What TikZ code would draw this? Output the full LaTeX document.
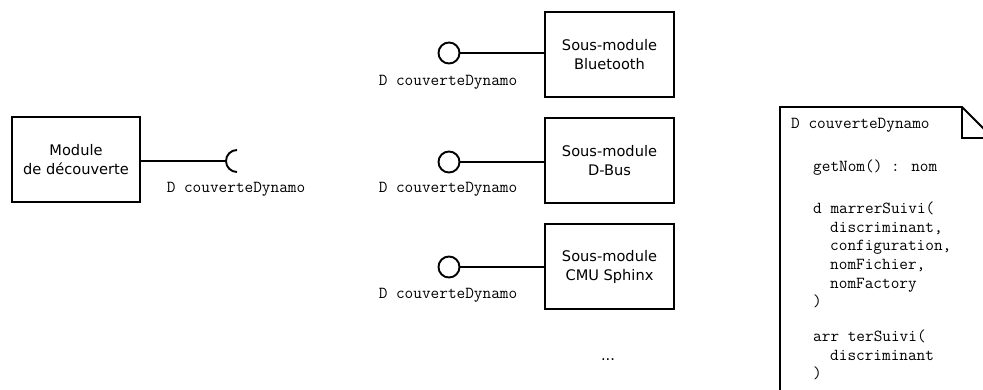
\documentclass[tikz,border=0pt]{standalone}
\usepackage{fontspec}
\newfontfamily\dsans{DejaVu Sans}
\begin{document}
\begin{tikzpicture}[x=1pt,y=-1pt,
  box/.style={draw,line width=1.9pt,minimum width=129pt,minimum height=85pt,inner sep=0pt,align=center,font=\dsans\fontsize{14.6}{19}\selectfont},
  iface/.style={draw,circle,line width=1.9pt,minimum size=21pt,inner sep=0pt},
  lbl/.style={inner sep=0pt,font=\ttfamily\fontsize{16.8}{18.5}\selectfont},
  conn/.style={line width=1.9pt},
  ntext/.style={lbl,anchor=west,text height=10pt,text depth=3pt}]
\clip (0,0) rectangle (983,389);
\fill[white] (0,0) rectangle (983,389);

% module de decouverte
\node[box,minimum width=128pt] (mod) at (76,159.5) {Module\\de découverte};
\coordinate (sock) at (237,161);
\draw[conn] (mod.east |- sock) -- ([xshift=-11pt]sock);
\draw[conn] ([yshift=11pt]sock) arc[start angle=90,end angle=270,radius=11pt];
\node[lbl] (lmod) at (236,189) {D couverteDynamo};

% sous-modules
\node[box] (bt) at (609.5,54.5) {Sous-module\\Bluetooth};
\node[box] (db) at (609.5,160.5) {Sous-module\\D-Bus};
\node[box] (cmu) at (609.5,266.5) {Sous-module\\CMU Sphinx};

\node[iface] (ibt) at (449,53) {};
\node[iface] (idb) at (449,162) {};
\node[iface] (icmu) at (449,267) {};

\draw[conn] (ibt.east) -- (ibt.east -| bt.west);
\draw[conn] (idb.east) -- (idb.east -| db.west);
\draw[conn] (icmu.east) -- (icmu.east -| cmu.west);

\node[lbl] (lbt) at (448,82) {D couverteDynamo};
\node[lbl] (ldb) at (448,189) {D couverteDynamo};
\node[lbl] (lcmu) at (448,295) {D couverteDynamo};

\node[inner sep=0pt,font=\dsans\fontsize{14.6}{19}\selectfont] (dots) at (608,360) {...};

% note
\draw[conn,line join=miter] (780,420) -- (780,107) -- (962,107) -- (993,138) -- (993,420);
\draw[conn] (962,107) -- (962,138) -- (993,138);
\node[ntext] (n1) at (791,125) {D couverteDynamo};
\node[ntext] (n2) at (813,168) {getNom() : nom};
\node[ntext] (n3) at (813,210) {d marrerSuivi(};
\node[ntext] (n4) at (830,228.5) {discriminant,};
\node[ntext] (n5) at (830,247) {configuration,};
\node[ntext] (n6) at (830,266) {nomFichier,};
\node[ntext] (n7) at (830,284.5) {nomFactory};
\node[ntext] (n8) at (813,303) {)};
\node[ntext] (n9) at (813,338) {arr terSuivi(};
\node[ntext] (n10) at (830,356.5) {discriminant};
\node[ntext] (n11) at (813,375) {)};
\end{tikzpicture}
\end{document}
